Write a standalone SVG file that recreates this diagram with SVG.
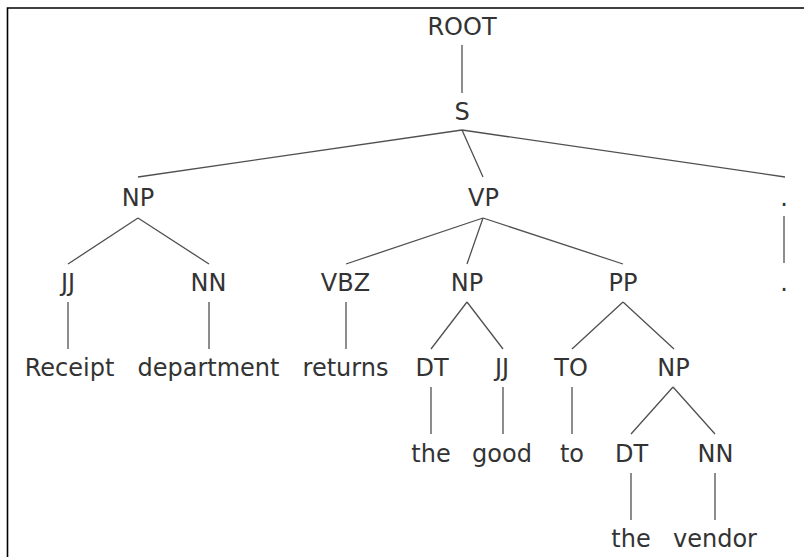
<svg xmlns="http://www.w3.org/2000/svg" width="804" height="557" viewBox="0 0 804 557">
<style>
text{font-family:"DejaVu Sans",sans-serif;font-size:24px;fill:#333;text-anchor:middle}
.e{stroke:#505050;stroke-width:1.3;fill:none}
.frame{stroke:#000;stroke-width:1.6;fill:none}
</style>
<rect width="804" height="557" fill="#fff"/>
<path class="frame" d="M7.5 557V8H804"/>
<g id="connectors">
<path class="e" d="M462 45V93"/>
<path class="e" d="M462 130L138 177M462 130L483 177M462 130L785 177"/>
<path class="e" d="M138 218L68 264M138 218L209 264"/>
<path class="e" d="M483 218L346 264M483 218L467 264M483 218L623 264"/>
<path class="e" d="M784 216V263"/>
<path class="e" d="M68 302V349M209 302V349M346 302V349"/>
<path class="e" d="M467 302L431 349M467 302L503 349"/>
<path class="e" d="M623 302L572 349M623 302L674 349"/>
<path class="e" d="M431 387V434M503 387V434M572 387V434"/>
<path class="e" d="M673 387L631 434M673 387L715 434"/>
<path class="e" d="M631 473V520M715 473V520"/>
</g>
<g id="n-root"><text x="462" y="35">ROOT</text></g>
<g id="n-s"><text x="462" y="120">S</text></g>
<g id="n-np1"><text x="138" y="206">NP</text></g>
<g id="n-vp"><text x="483.5" y="206">VP</text></g>
<g id="n-punct"><text x="784" y="206">.</text></g>
<g id="n-jj1"><text x="68" y="291">JJ</text></g>
<g id="n-nn1"><text x="208.5" y="291">NN</text></g>
<g id="n-vbz"><text x="345.5" y="291">VBZ</text></g>
<g id="n-np2"><text x="467" y="291">NP</text></g>
<g id="n-pp"><text x="623" y="291">PP</text></g>
<g id="n-punct-leaf"><text x="784" y="291">.</text></g>
<g id="n-receipt"><text x="69.5" y="376">Receipt</text></g>
<g id="n-department"><text x="208.5" y="376">department</text></g>
<g id="n-returns"><text x="345.5" y="376">returns</text></g>
<g id="n-dt1"><text x="432" y="376">DT</text></g>
<g id="n-jj2"><text x="502" y="376">JJ</text></g>
<g id="n-to"><text x="571" y="376">TO</text></g>
<g id="n-np3"><text x="673.5" y="376">NP</text></g>
<g id="n-the1"><text x="431" y="461.5">the</text></g>
<g id="n-good"><text x="502" y="461.5">good</text></g>
<g id="n-to-leaf"><text x="572" y="461.5">to</text></g>
<g id="n-dt2"><text x="631.5" y="461.5">DT</text></g>
<g id="n-nn2"><text x="715.5" y="461.5">NN</text></g>
<g id="n-the2"><text x="631" y="547">the</text></g>
<g id="n-vendor"><text x="715" y="547">vendor</text></g>
</svg>
